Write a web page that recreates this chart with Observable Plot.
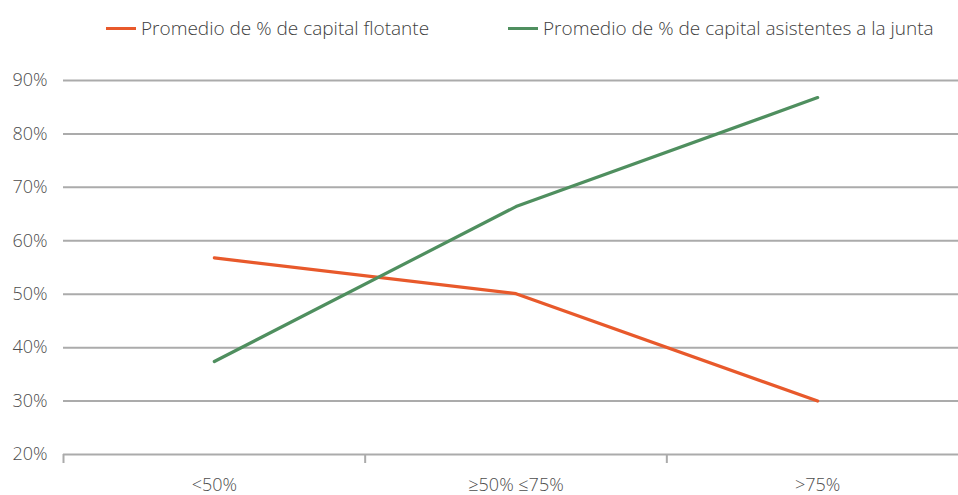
<!DOCTYPE html>
<html><head><meta charset="utf-8">
<script src="https://cdn.jsdelivr.net/npm/d3@7"></script>
<script src="https://cdn.jsdelivr.net/npm/@observablehq/plot@0.6"></script>
<style>
body{margin:0;background:#fff;font-family:"Open Sans",sans-serif;}
#legend{position:relative;height:50px;}
.item{position:absolute;top:15px;height:26px;line-height:26px;display:flex;align-items:center;font-size:19px;color:#404040;font-weight:300;white-space:nowrap}
.sw{width:30px;height:3px;margin-right:5px}
</style></head><body>
<div id="legend"></div>
<div id="chart"></div>
<script>
const categories = ["<50%", "≥50% ≤75%", ">75%"];
const seriesNames = ["Promedio de % de capital flotante", "Promedio de % de capital asistentes a la junta"];
const flotante = [56.8, 50.1, 30.0];
const asistentes = [37.4, 66.4, 86.8];
const yTicks = [20, 30, 40, 50, 60, 70, 80, 90];
const colors = ["#e8592b", "#4f8f5f"];
const legendLeft = [106, 508];

const legend = document.getElementById("legend");
seriesNames.forEach((name, i) => {
  const it = document.createElement("div");
  it.className = "item";
  it.style.left = legendLeft[i] + "px";
  const sw = document.createElement("span");
  sw.className = "sw";
  sw.style.background = colors[i];
  const tx = document.createElement("span");
  tx.textContent = name;
  it.appendChild(sw); it.appendChild(tx);
  legend.appendChild(it);
});

const rows = [];
[flotante, asistentes].forEach((vals, s) => {
  vals.forEach((v, i) => rows.push({x: i + 0.5, y: v, series: seriesNames[s]}));
});

const chart = Plot.plot({
  width: 958,
  height: 445,
  marginLeft: 63,
  marginRight: -10,
  marginTop: 30,
  marginBottom: 41,
  style: {fontFamily: "'Open Sans', sans-serif", background: "#fff", overflow: "hidden"},
  x: {type: "linear", domain: [0, categories.length]},
  y: {domain: [20, 90]},
  color: {domain: seriesNames, range: colors},
  marks: [
    Plot.ruleY(yTicks, {stroke: "#ababab", strokeWidth: 2}),
    Plot.axisY(yTicks, {tickSize: 0, tickPadding: 16, tickFormat: d => d + "%", fontSize: 18, fill: "#4d4d4d", fontWeight: 300, label: null}),
    Plot.axisX(d3.range(categories.length + 1), {tickSize: 9, stroke: "#ababab", strokeWidth: 2, tickFormat: () => "", label: null}),
    Plot.axisX(categories.map((c, i) => i + 0.5), {tickSize: 0, tickPadding: 24, tickFormat: d => categories[Math.round(d - 0.5)], fontSize: 18, fill: "#4d4d4d", fontWeight: 300, label: null}),
    Plot.line(rows, {x: "x", y: "y", z: "series", stroke: "series", strokeWidth: 3.2})
  ]
});
document.getElementById("chart").appendChild(chart);
</script>
</body></html>
